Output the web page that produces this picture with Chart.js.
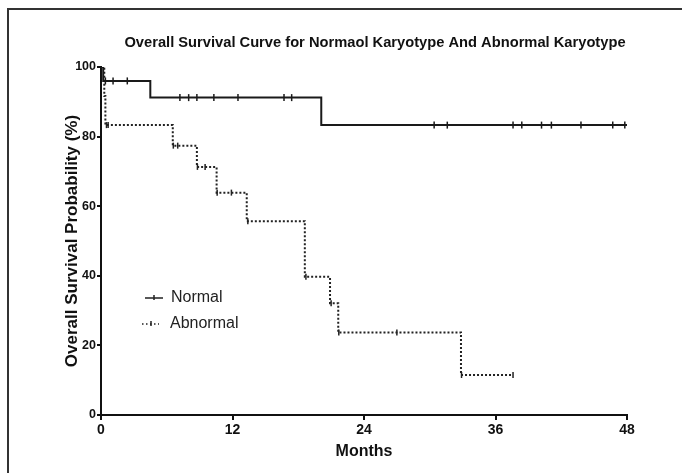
<!DOCTYPE html>
<html>
<head>
<meta charset="utf-8">
<script src="https://cdn.jsdelivr.net/npm/chart.js@4"></script>
<style>
  body { margin: 0; background: #fff; }
  #wrap { position: relative; width: 682px; height: 473px; }
  #frame { position: absolute; left: 7px; top: 8px; right: 0; bottom: 0;
           border-top: 2px solid #333; border-left: 2px solid #333; pointer-events: none; }
</style>
</head>
<body>
<div id="wrap">
  <canvas id="kmChart" width="682" height="473"></canvas>
  <div id="frame"></div>
</div>
<script>
// Kaplan-Meier steps: survival level reached at each time (months)
var normalTimes = [0, 0.2, 4.5, 20.1, 48];
var normalSurv = [100, 96.0, 91.2, 83.3, 83.3];
var normalCensor = [0.4, 1.1, 2.4, 7.2, 8.0, 8.75, 10.3, 12.5, 16.7, 17.4, 30.4, 31.6, 37.6, 38.4, 40.2, 41.1, 43.8, 46.7, 47.8];

var abnTimes = [0, 0.3, 0.4, 6.55, 8.75, 10.55, 13.3, 18.6, 20.9, 21.65, 32.85, 37.6];
var abnSurv = [100, 91.7, 83.3, 77.4, 71.3, 63.9, 55.7, 39.7, 32.1, 23.7, 11.5, 11.5];
var abnCensor = [0.5, 0.65, 6.6, 7.0, 8.8, 9.5, 10.6, 11.9, 13.4, 18.7, 21.0, 21.7, 27.0, 32.9, 37.6];

var xTicks = [0, 12, 24, 36, 48];
var yTicks = [0, 20, 40, 60, 80, 100];

var titleText = 'Overall Survival Curve for Normaol Karyotype And Abnormal Karyotype';
var FONT = "'Liberation Sans', Arial, sans-serif";

function toPoints(times, surv) {
  var pts = [];
  for (let i = 0; i < times.length; i++) {
    pts.push({ x: times[i], y: surv[i] });
  }
  return pts;
}

// level of the step curve at time t
function levelAt(times, surv, t) {
  var s = surv[0];
  for (let i = 0; i < times.length; i++) {
    if (times[i] <= t) s = surv[i];
  }
  return s;
}

function censorPoints(censor, times, surv) {
  return censor.map(function(t) { return { x: t, y: levelAt(times, surv, t) }; });
}

// title + inline legend drawn on the canvas
var extrasPlugin = {
  id: 'extras',
  afterDraw: function(chart) {
    var ctx = chart.ctx;
    ctx.save();
    ctx.fillStyle = '#111';
    ctx.font = 'bold 14.7px ' + FONT;
    ctx.textAlign = 'center';
    ctx.textBaseline = 'middle';
    ctx.fillText(titleText, 375, 43);

    ctx.strokeStyle = '#222';
    ctx.lineWidth = 1.5;
    // Normal
    ctx.beginPath();
    ctx.moveTo(145, 298); ctx.lineTo(163, 298);
    ctx.moveTo(154, 295); ctx.lineTo(154, 300);
    ctx.stroke();
    // Abnormal
    ctx.setLineDash([1.5, 2.5]);
    ctx.beginPath();
    ctx.moveTo(142, 324); ctx.lineTo(159, 324);
    ctx.stroke();
    ctx.setLineDash([]);
    ctx.beginPath();
    ctx.moveTo(151, 321); ctx.lineTo(151, 326);
    ctx.stroke();

    ctx.font = '16px ' + FONT;
    ctx.textAlign = 'left';
    ctx.fillStyle = '#222';
    ctx.fillText('Normal', 171, 298);
    ctx.fillText('Abnormal', 170, 324);
    ctx.restore();
  }
};

const ctx = document.getElementById('kmChart');
const kmChart = new Chart(ctx, {
  type: 'line',
  data: {
    datasets: [
      {
        label: 'Normal',
        data: toPoints(normalTimes, normalSurv),
        stepped: true,
        borderColor: '#1a1a1a',
        borderWidth: 2,
        pointRadius: 0,
        fill: false,
      },
      {
        label: 'Abnormal',
        data: toPoints(abnTimes, abnSurv),
        stepped: true,
        borderColor: '#222',
        borderWidth: 2,
        borderDash: [2, 2],
        pointRadius: 0,
        fill: false,
      },
      {
        label: 'Normal censored',
        data: censorPoints(normalCensor, normalTimes, normalSurv),
        showLine: false,
        pointStyle: 'line',
        rotation: 90,
        pointRadius: 3.5,
        borderColor: '#1a1a1a',
        pointBorderWidth: 1.5,
      },
      {
        label: 'Abnormal censored',
        data: censorPoints(abnCensor, abnTimes, abnSurv),
        showLine: false,
        pointStyle: 'line',
        rotation: 90,
        pointRadius: 3,
        borderColor: '#222',
        pointBorderWidth: 1.5,
      },
    ]
  },
  options: {
    responsive: false,
    animation: false,
    devicePixelRatio: 1,
    layout: { padding: { left: 0, right: 55, top: 67, bottom: 0 } },
    plugins: {
      legend: { display: false },
      title: { display: false },
      tooltip: { enabled: false },
    },
    scales: {
      x: {
        type: 'linear',
        min: 0,
        max: 48,
        afterBuildTicks: function(scale) {
          scale.ticks = xTicks.map(function(v) { return { value: v }; });
        },
        afterFit: function(scale) { scale.height = 58; },
        grid: { display: true, drawOnChartArea: false, drawTicks: true, tickLength: 5, color: '#111', lineWidth: 2 },
        border: { display: true, color: '#111', width: 2 },
        ticks: { color: '#111', padding: 2, maxRotation: 0, font: { family: FONT, size: 14, weight: 'bold' } },
        title: { display: true, text: 'Months', color: '#111', padding: { top: 0, bottom: 11.4 }, font: { family: FONT, size: 16, weight: 'bold' } },
      },
      y: {
        min: 0,
        max: 100,
        afterBuildTicks: function(scale) {
          scale.ticks = yTicks.map(function(v) { return { value: v }; });
        },
        afterFit: function(scale) { scale.width = 101; },
        grid: { display: true, drawOnChartArea: false, drawTicks: true, tickLength: 4, color: '#111', lineWidth: 2 },
        border: { display: true, color: '#111', width: 2 },
        ticks: { color: '#111', padding: 1, font: { family: FONT, size: 12.5, weight: 'bold' } },
        title: { display: true, text: 'Overall Survival Probability (%)', color: '#111', padding: { top: 62, bottom: 0 }, font: { family: FONT, size: 17, weight: 'bold' } },
      }
    }
  },
  plugins: [extrasPlugin]
});
</script>
</body>
</html>
